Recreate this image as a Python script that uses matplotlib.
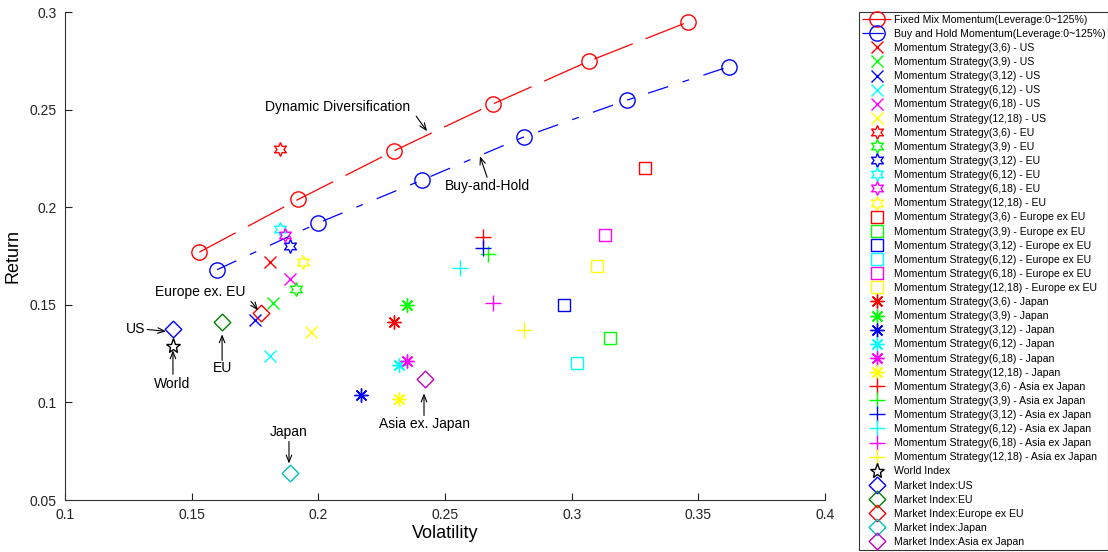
import matplotlib
matplotlib.use("Agg")
import matplotlib.pyplot as plt

plt.rcParams["font.family"] = ["Liberation Sans", "DejaVu Sans"]

# ── data ──────────────────────────────────────────────────────────────────────
fixed_vol = [0.153, 0.192, 0.230, 0.269, 0.307, 0.346]
fixed_ret = [0.177, 0.204, 0.229, 0.253, 0.275, 0.295]
bh_vol = [0.160, 0.200, 0.241, 0.281, 0.322, 0.362]
bh_ret = [0.168, 0.192, 0.214, 0.236, 0.255, 0.272]

windows = ["(3,6)", "(3,9)", "(3,12)", "(6,12)", "(6,18)", "(12,18)"]
strat_colors = ["#ff0000", "#00ff00", "#0000ff", "#00ffff", "#ff00ff", "#ffff00"]

us_vol = [0.181, 0.182, 0.175, 0.181, 0.189, 0.197]
us_ret = [0.172, 0.151, 0.142, 0.124, 0.163, 0.136]
eu_vol = [0.185, 0.191, 0.189, 0.185, 0.187, 0.194]
eu_ret = [0.230, 0.158, 0.180, 0.189, 0.186, 0.172]
exeu_vol = [0.329, 0.315, 0.297, 0.302, 0.313, 0.310]
exeu_ret = [0.220, 0.133, 0.150, 0.120, 0.186, 0.170]
jp_vol = [0.230, 0.235, 0.217, 0.232, 0.235, 0.232]
jp_ret = [0.141, 0.150, 0.104, 0.119, 0.121, 0.102]
asia_vol = [0.265, 0.267, 0.265, 0.256, 0.269, 0.281]
asia_ret = [0.185, 0.176, 0.179, 0.169, 0.151, 0.137]

world_vol, world_ret = 0.1426, 0.129
index_names = ["US", "EU", "Europe ex EU", "Japan", "Asia ex Japan"]
index_vol = [0.1426, 0.162, 0.1774, 0.1888, 0.2421]
index_ret = [0.1378, 0.1410, 0.1458, 0.0640, 0.1120]
index_colors = ["#0000ff", "#008000", "#ff0000", "#00bfbf", "#bf00bf"]

# labels: (text, text_x, text_y, tail_x, tail_y, tip_x, tip_y)
notes = [
    ("Dynamic Diversification", 0.2074, 0.2513, 0.2386, 0.2467, 0.2429, 0.2390),
    ("Buy-and-Hold", 0.2666, 0.2108, 0.2666, 0.2154, 0.2638, 0.2262),
    ("Europe ex. EU", 0.1533, 0.1564, 0.1734, 0.1518, 0.1762, 0.1472),
    ("US", 0.1280, 0.1374, 0.1324, 0.1374, 0.1399, 0.1364),
    ("World", 0.1422, 0.1097, 0.1426, 0.1144, 0.1426, 0.1267),
    ("EU", 0.1620, 0.1174, 0.1620, 0.1215, 0.1620, 0.1349),
    ("Japan", 0.1884, 0.0846, 0.1884, 0.0800, 0.1884, 0.0687),
    ("Asia ex. Japan", 0.2417, 0.0892, 0.2417, 0.0933, 0.2417, 0.1046),
]

# ── figure ────────────────────────────────────────────────────────────────────
fig = plt.figure(figsize=(11.08, 5.52), dpi=100)
ax = fig.add_axes([0.0587, 0.0942, 0.6859, 0.8838])

mew = 1.0
ax.plot(fixed_vol, fixed_ret, color="red", ls=(0, (33, 11)), lw=0.9,
        marker="o", ms=11, mfc="none", mew=mew,
        label="Fixed Mix Momentum(Leverage:0~125%)")
ax.plot(bh_vol, bh_ret, color="blue", ls=(0, (17, 12, 5.6, 12)), lw=0.9,
        marker="o", ms=11, mfc="none", mew=mew,
        label="Buy and Hold Momentum(Leverage:0~125%)")

groups = [
    ("US", us_vol, us_ret, "x", 8.5),
    ("EU", eu_vol, eu_ret, (6, 1, 0), 10),
    ("Europe ex EU", exeu_vol, exeu_ret, "s", 8.5),
    ("Japan", jp_vol, jp_ret, (8, 2, 0), 10),
    ("Asia ex Japan", asia_vol, asia_ret, "+", 11),
]
for region, vols, rets, mk, ms in groups:
    for w, c, v, r in zip(windows, strat_colors, vols, rets):
        ax.plot([v], [r], ls="none", marker=mk, ms=ms, color=c,
                mfc="none", mew=mew,
                label=f"Momentum Strategy{w} - {region}")

ax.plot([world_vol], [world_ret], ls="none", marker="*", ms=11, color="black",
        mfc="none", mew=mew, label="World Index")
for name, v, r, c in zip(index_names, index_vol, index_ret, index_colors):
    ax.plot([v], [r], ls="none", marker=(4, 0, 0), ms=12, color=c, mfc="none",
            mew=mew, label=f"Market Index:{name}")

for txt, tx, ty, ax0, ay0, ax1, ay1 in notes:
    ax.text(tx, ty, txt, ha="center", va="center", fontsize=10)
    ax.annotate("", xy=(ax1, ay1), xytext=(ax0, ay0),
                arrowprops=dict(arrowstyle="->,head_length=0.5,head_width=0.2",
                                color="black", lw=0.8, shrinkA=0, shrinkB=0))

ax.set_xlim(0.1, 0.4)
ax.set_ylim(0.05, 0.3)
ax.set_xticks([0.1, 0.15, 0.2, 0.25, 0.3, 0.35, 0.4])
ax.set_xticklabels(["0.1", "0.15", "0.2", "0.25", "0.3", "0.35", "0.4"])
ax.set_yticks([0.05, 0.1, 0.15, 0.2, 0.25, 0.3])
ax.set_yticklabels(["0.05", "0.1", "0.15", "0.2", "0.25", "0.3"])
ax.tick_params(direction="in", length=5, width=0.8, labelsize=10,
               colors="#222222", pad=6)
for s in ("top", "right"):
    ax.spines[s].set_visible(False)
for s in ("left", "bottom"):
    ax.spines[s].set_color("#333333")
    ax.spines[s].set_linewidth(0.8)
ax.set_xlabel("Volatility", fontsize=13, labelpad=2)
ax.set_ylabel("Return", fontsize=13, labelpad=6)

leg = fig.legend(handles=ax.lines, loc="upper left",
                 bbox_to_anchor=(0.7755, 0.979), fontsize=7.6,
                 frameon=True, fancybox=False, edgecolor="black",
                 handlelength=2.7, handletextpad=0.25, labelspacing=0.39,
                 borderpad=0.3, borderaxespad=0)
leg.get_frame().set_linewidth(0.8)

fig.savefig("out.png", dpi=100)
